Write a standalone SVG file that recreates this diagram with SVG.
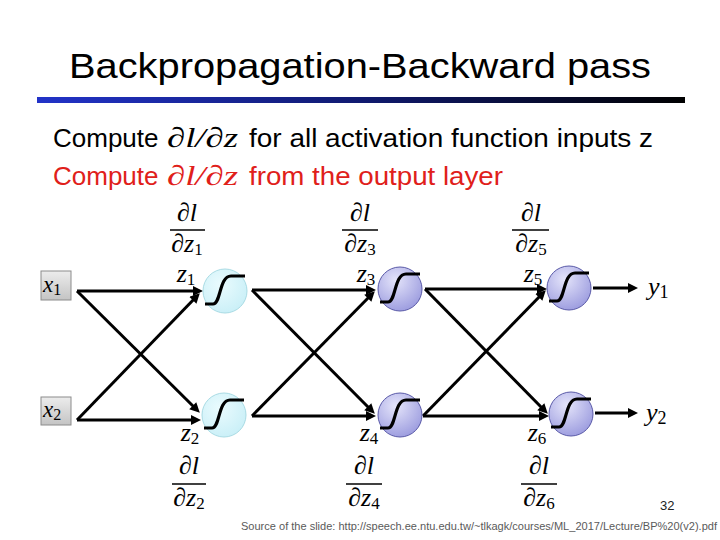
<svg xmlns="http://www.w3.org/2000/svg" width="720" height="540" viewBox="0 0 720 540">
<defs>
<style>
.sans{font-family:"Liberation Sans",Arial,sans-serif}
.math{font-family:"Liberation Serif","DejaVu Serif",serif;font-style:italic}
.sub{font-style:normal}
.lbl{font-family:"Liberation Serif","DejaVu Serif",serif;font-style:italic;font-size:26px;fill:#000;text-anchor:middle}
.bar{stroke:#000;stroke-width:1.3}
.edge{stroke:#000;stroke-width:3;fill:none;marker-end:url(#ah)}
.sig{stroke:#000;stroke-width:3.2;fill:none;stroke-linejoin:round}
.c1{fill:url(#g1);stroke:#a9dbe4;stroke-width:1}
.c2{fill:url(#g2);stroke:#5a5aa8;stroke-width:1}
.xbox{fill:url(#gx);stroke:#8c8c8c;stroke-width:1}
</style>
<linearGradient id="gbar" x1="0" y1="0" x2="1" y2="0">
<stop offset="0" stop-color="#2233c8"/>
<stop offset="0.5" stop-color="#101a70"/>
<stop offset="1" stop-color="#000000"/>
</linearGradient>
<radialGradient id="g1" cx="0.4" cy="0.35" r="0.7">
<stop offset="0" stop-color="#eafbfe"/>
<stop offset="1" stop-color="#c9eff7"/>
</radialGradient>
<radialGradient id="g2" cx="0.4" cy="0.3" r="0.75">
<stop offset="0" stop-color="#e4e4fa"/>
<stop offset="1" stop-color="#9a9ade"/>
</radialGradient>
<linearGradient id="gx" x1="0" y1="0" x2="0" y2="1">
<stop offset="0" stop-color="#ececec"/>
<stop offset="1" stop-color="#c4c4c4"/>
</linearGradient>
<marker id="ah" viewBox="0 0 10 10" markerUnits="userSpaceOnUse" markerWidth="12" markerHeight="10" refX="6" refY="5" orient="auto">
<path d="M0,0 L10,5 L0,10 z" fill="#000"/>
</marker>
<path id="sigmoid" d="M-20,13 L-12,13 C-4,13 -6,-15 6,-15 L20,-15"/>
</defs>
<rect width="720" height="540" fill="#fff"/>

<g id="title">
<text class="sans" x="69" y="78" font-size="35" textLength="582" lengthAdjust="spacingAndGlyphs">Backpropagation-Backward pass</text>
<rect x="37" y="97" width="648" height="6" fill="url(#gbar)"/>
</g>

<g id="text-lines">
<text class="sans" x="53" y="147" font-size="26" fill="#000">Compute</text>
<text class="math" x="167" y="147" font-size="28" fill="#000" textLength="71" lengthAdjust="spacingAndGlyphs">∂l/∂z</text>
<text class="sans" x="249" y="147" font-size="26" fill="#000" textLength="404" lengthAdjust="spacingAndGlyphs">for all activation function inputs z</text>
<text class="sans" x="53" y="185" font-size="26" fill="#e0201a">Compute</text>
<text class="math" x="167" y="185" font-size="28" fill="#e0201a" textLength="71" lengthAdjust="spacingAndGlyphs">∂l/∂z</text>
<text class="sans" x="249" y="185" font-size="26" fill="#e0201a" textLength="254" lengthAdjust="spacingAndGlyphs">from the output layer</text>
</g>

<g id="connectors">
<line class="edge" x1="77" y1="291" x2="199" y2="291"/>
<line class="edge" x1="77" y1="291" x2="197" y2="410"/>
<line class="edge" x1="77" y1="420" x2="197" y2="296"/>
<line class="edge" x1="77" y1="420" x2="197" y2="420"/>
<line class="edge" x1="252" y1="290" x2="372" y2="290"/>
<line class="edge" x1="252" y1="290" x2="372" y2="411"/>
<line class="edge" x1="252" y1="416" x2="372" y2="294"/>
<line class="edge" x1="252" y1="416" x2="372" y2="416"/>
<line class="edge" x1="425" y1="289" x2="543" y2="289"/>
<line class="edge" x1="425" y1="289" x2="545" y2="411"/>
<line class="edge" x1="423" y1="416" x2="543" y2="293"/>
<line class="edge" x1="423" y1="416" x2="545" y2="416"/>
<line class="edge" x1="593" y1="288" x2="634" y2="288"/>
<line class="edge" x1="595" y1="413" x2="634" y2="413"/>
</g>

<g id="x1">
<rect class="xbox" x="41" y="271" width="30" height="29"/>
<text class="math" x="43" y="292" font-size="23">x<tspan class="sub" font-size="16" dy="3">1</tspan></text>
</g>
<g id="x2">
<rect class="xbox" x="41" y="397" width="30" height="28"/>
<text class="math" x="43" y="417" font-size="23">x<tspan class="sub" font-size="16" dy="3">2</tspan></text>
</g>

<g id="n1">
<circle class="c1" cx="225" cy="291" r="22"/>
<use href="#sigmoid" class="sig" x="225" y="291"/>
</g>
<g id="n2">
<circle class="c1" cx="224" cy="415" r="22"/>
<use href="#sigmoid" class="sig" x="224" y="415"/>
</g>
<g id="n3">
<circle class="c2" cx="400" cy="289" r="22"/>
<use href="#sigmoid" class="sig" x="400" y="289"/>
</g>
<g id="n4">
<circle class="c2" cx="400" cy="415" r="22"/>
<use href="#sigmoid" class="sig" x="400" y="415"/>
</g>
<g id="n5">
<circle class="c2" cx="569" cy="288" r="22"/>
<use href="#sigmoid" class="sig" x="569" y="288"/>
</g>
<g id="n6">
<circle class="c2" cx="571" cy="414" r="22"/>
<use href="#sigmoid" class="sig" x="571" y="414"/>
</g>

<g id="labels-top">
<text class="lbl" x="187" y="221">∂l</text>
<line class="bar" x1="170" y1="230" x2="205" y2="230"/>
<text class="lbl" x="187" y="252">∂z<tspan class="sub" font-size="17" dy="3">1</tspan></text>
<text class="lbl" x="186" y="282">z<tspan class="sub" font-size="17" dy="3">1</tspan></text>

<text class="lbl" x="360" y="221">∂l</text>
<line class="bar" x1="342" y1="230" x2="378" y2="230"/>
<text class="lbl" x="360" y="252">∂z<tspan class="sub" font-size="17" dy="3">3</tspan></text>
<text class="lbl" x="366" y="282">z<tspan class="sub" font-size="17" dy="3">3</tspan></text>

<text class="lbl" x="531" y="221">∂l</text>
<line class="bar" x1="512" y1="230" x2="549" y2="230"/>
<text class="lbl" x="531" y="252">∂z<tspan class="sub" font-size="17" dy="3">5</tspan></text>
<text class="lbl" x="533" y="282">z<tspan class="sub" font-size="17" dy="3">5</tspan></text>
</g>

<g id="labels-bottom">
<text class="lbl" x="190" y="441">z<tspan class="sub" font-size="17" dy="3">2</tspan></text>
<text class="lbl" x="189" y="474">∂l</text>
<line class="bar" x1="172" y1="484" x2="206" y2="484"/>
<text class="lbl" x="189" y="506">∂z<tspan class="sub" font-size="17" dy="3">2</tspan></text>

<text class="lbl" x="369" y="441">z<tspan class="sub" font-size="17" dy="3">4</tspan></text>
<text class="lbl" x="364" y="474">∂l</text>
<line class="bar" x1="346" y1="484" x2="382" y2="484"/>
<text class="lbl" x="364" y="506">∂z<tspan class="sub" font-size="17" dy="3">4</tspan></text>

<text class="lbl" x="537" y="441">z<tspan class="sub" font-size="17" dy="3">6</tspan></text>
<text class="lbl" x="539" y="474">∂l</text>
<line class="bar" x1="521" y1="484" x2="557" y2="484"/>
<text class="lbl" x="539" y="506">∂z<tspan class="sub" font-size="17" dy="3">6</tspan></text>
</g>

<g id="outputs">
<text class="math" x="648" y="295" font-size="26">y<tspan class="sub" font-size="18" dy="3">1</tspan></text>
<text class="math" x="646" y="421" font-size="26">y<tspan class="sub" font-size="18" dy="3">2</tspan></text>
</g>

<g id="footer">
<text class="sans" x="660" y="510" font-size="13" fill="#222">32</text>
<text class="sans" x="241" y="530" font-size="11" fill="#5a5a5a" textLength="476" lengthAdjust="spacingAndGlyphs">Source of the slide: http://speech.ee.ntu.edu.tw/~tlkagk/courses/ML_2017/Lecture/BP%20(v2).pdf</text>
</g>
</svg>
